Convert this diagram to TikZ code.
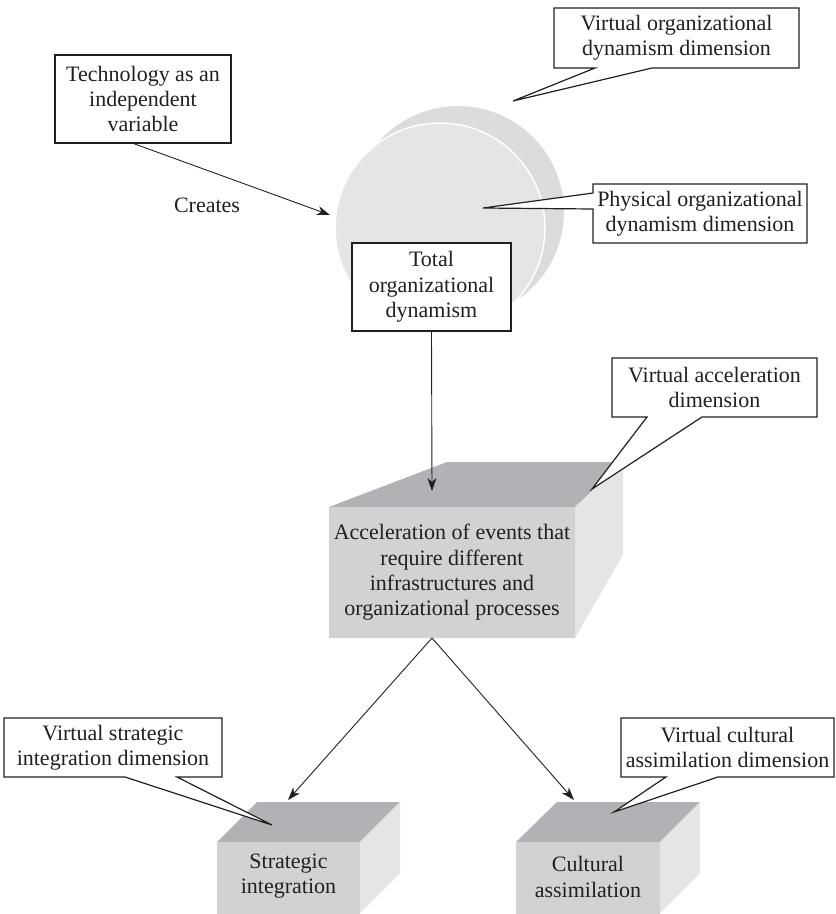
\documentclass[tikz,border=0pt]{standalone}
\usepackage{fontspec}
\setmainfont{Liberation Serif}
\usetikzlibrary{arrows.meta}

\definecolor{ink}{HTML}{231F20}
\definecolor{backdisc}{HTML}{DCDCDE}
\definecolor{frontdisc}{HTML}{E5E5E7}
\definecolor{topgray}{HTML}{B1B2B5}
\definecolor{facegray}{HTML}{D1D2D4}
\definecolor{sidegray}{HTML}{E4E5E6}

\newcommand\figfont{\fontsize{22}{25.3}\selectfont}

\tikzset{
  txt/.style={text=ink, align=center, font=\figfont, inner sep=0pt},
  framebox/.style={txt, draw=ink, line width=1.4pt, fill=white},
  callout/.style={draw=ink, line width=1.2pt, fill=white, line join=miter},
  link/.style={draw=ink, line width=0.9pt,
    -{Stealth[length=13pt,width=9pt,inset=4pt]}},
  topface/.style={fill=topgray},
  frontface/.style={fill=facegray},
  sideface/.style={fill=sidegray},
}

\begin{document}
\begin{tikzpicture}[x=1pt,y=-1pt]
\useasboundingbox (0,0) rectangle (836,914);
\clip (0,0) rectangle (836,914);

% two overlapping discs: virtual (back) and physical (front) dynamism
\node[circle, fill=backdisc, minimum size=212pt, inner sep=0pt] (virtdisc) at (458,212) {};
\node[circle, fill=frontdisc, draw=white, line width=1.5pt, minimum size=210pt, inner sep=0pt] (physdisc) at (440,228) {};

% independent variable
\node[framebox, minimum width=176pt, minimum height=88pt] (tech) at (143,99)
  {Technology as an\\independent\\variable};
\node[txt] (creates) at (207,205) {Creates};
\coordinate (discin) at (330,215);
\draw[link] ([xshift=-9pt]tech.south) -- (discin);

% callouts for the discs
\draw[callout] (554,8) -- (799,8) -- (799,68) -- (652,68) -- (513,101) -- (595,68) -- (554,68) -- cycle;
\node[txt] (virtlabel) at (676.5,38) {Virtual organizational\\dynamism dimension};
\draw[callout] (593,184) -- (807,184) -- (807,243) -- (593,243) -- (593,209) -- (483,208) -- (593,193) -- cycle;
\node[txt] (physlabel) at (700,213.5) {Physical organizational\\dynamism dimension};

% total dynamism
\node[framebox, minimum width=159pt, minimum height=88pt] (total) at (431.5,287)
  {Total\\organizational\\dynamism};

% acceleration block
\fill[topface] (329,507) -- (447,462) -- (623,462) -- (575,507) -- cycle;
\fill[sideface] (575,507) -- (623,462) -- (623,555) -- (575,638) -- cycle;
\node[txt, frontface, minimum width=246pt, minimum height=131pt] (accel) at (452,572.5)
  {Acceleration of events that\\require different\\infrastructures and\\organizational processes};
\coordinate (acceltop) at (432,491);
\coordinate (accelbase) at (432,638);
\draw[link] (total.south) -- (acceltop);

\draw[callout] (612,358) -- (817,358) -- (817,417) -- (702,417) -- (592,489) -- (647,417) -- (612,417) -- cycle;
\node[txt] (acclabel) at (714.5,387.5) {Virtual acceleration\\dimension};

% strategic integration block
\fill[topface] (217,842) -- (257,802) -- (400,802) -- (360,842) -- cycle;
\fill[sideface] (360,842) -- (400,802) -- (400,873) -- (360,913) -- cycle;
\fill[frontface] (217,842) rectangle (360,930);
\node[txt] (strat) at (288.5,876) {Strategic\\integration};
\coordinate (strattop) at (288,800);

% cultural assimilation block
\fill[topface] (516,842) -- (557,802) -- (700,802) -- (660,842) -- cycle;
\fill[sideface] (660,842) -- (700,802) -- (700,873) -- (660,913) -- cycle;
\fill[frontface] (516,842) rectangle (660,930);
\node[txt] (cult) at (588,877) {Cultural\\assimilation};
\coordinate (culttop) at (574,800);

\draw[link] (accelbase) -- (strattop);
\draw[link] (accelbase) -- (culttop);

% callouts for the lower blocks
\draw[callout] (4,718) -- (222,718) -- (222,777) -- (177,777) -- (272,825) -- (125,777) -- (4,777) -- cycle;
\node[txt] (stratlabel) at (113,747.5) {Virtual strategic\\integration dimension};
\draw[callout] (621,718) -- (834,718) -- (834,777) -- (718,777) -- (614,812) -- (666,777) -- (621,777) -- cycle;
\node[txt] (cultlabel) at (727.5,747.5) {Virtual cultural\\assimilation dimension};
\end{tikzpicture}
\end{document}
